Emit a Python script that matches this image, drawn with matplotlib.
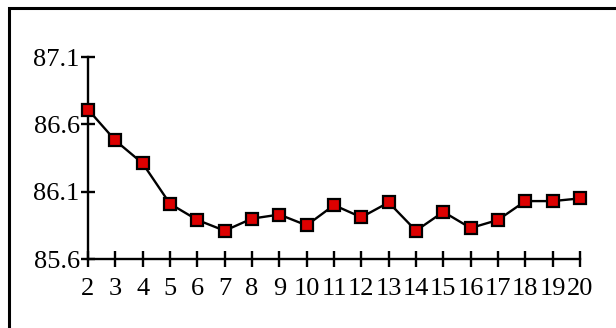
import matplotlib.pyplot as plt
from matplotlib.patches import Rectangle

# values
x_values = [2, 3, 4, 5, 6, 7, 8, 9, 10, 11, 12, 13, 14, 15, 16, 17, 18, 19, 20]
y_values = [86.71, 86.48, 86.31, 86.01, 85.89, 85.81, 85.90, 85.93, 85.85, 86.00,
            85.91, 86.02, 85.81, 85.95, 85.83, 85.89, 86.03, 86.03, 86.05]
y_ticks = [85.6, 86.1, 86.6, 87.1]
y_tick_labels = ["85.6", "86.1", "86.6", "87.1"]

plt.rcParams['font.family'] = ['Liberation Serif', 'DejaVu Serif']

W, H = 616, 328
fig = plt.figure(figsize=(W / 100, H / 100), dpi=100)

#outer frame, cut off at the right and bottom like the source
fig.patches.append(Rectangle((8.5 / W, -0.1), 2, (H - 7.5) / H + 0.1,
                             transform=fig.transFigure, fill=False,
                             edgecolor='black', linewidth=2.2))

ax = fig.add_axes([88 / W, 69 / H, (580 - 88) / W, (259 - 57) / H])

ax.plot(x_values, y_values, color='black', linewidth=1.7, marker='s',
        markersize=8.6, markerfacecolor='#dd0000', markeredgecolor='black',
        markeredgewidth=1.6, clip_on=False, zorder=3)

ax.set_xlim(2, 20)
ax.set_ylim(85.6, 87.1)
ax.set_xticks(x_values)
ax.set_xticklabels([str(v) for v in x_values])
ax.set_yticks(y_ticks)
ax.set_yticklabels(y_tick_labels)

for side in ['top', 'right']:
    ax.spines[side].set_visible(False)
for side in ['left', 'bottom']:
    ax.spines[side].set_linewidth(1.7)

ax.tick_params(axis='y', direction='inout', length=10, width=1.7, pad=1,
               labelsize=19)
ax.tick_params(axis='x', direction='inout', length=12, width=1.7, pad=8,
               labelsize=19)

fig.savefig('out.png', dpi=100)
